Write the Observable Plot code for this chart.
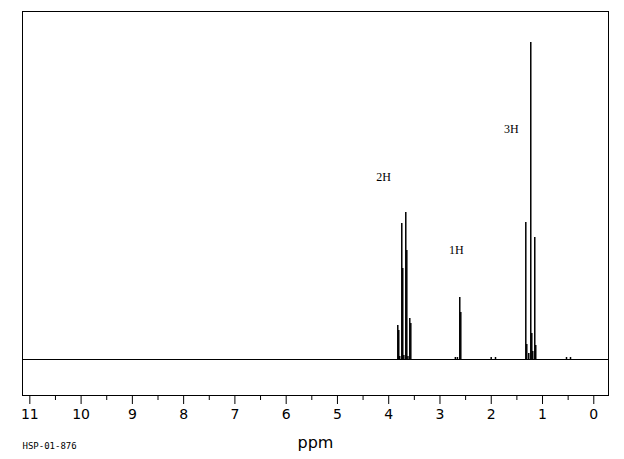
<!DOCTYPE html>
<html>
<head>
<meta charset="utf-8">
<script src="https://cdn.jsdelivr.net/npm/d3@7"></script>
<script src="https://cdn.jsdelivr.net/npm/@observablehq/plot@0.6"></script>
<style>
  html, body { margin: 0; padding: 0; background: #fff; }
</style>
</head>
<body>
<div id="chart"></div>
<script>
// Peak positions (ppm) and heights (arbitrary intensity units)
const peakPpm = [
  3.823, 3.804, 3.745, 3.726, 3.667, 3.647, 3.589, 3.569,
  3.785, 3.705, 3.625,
  2.614, 2.594, 2.70, 2.66,
  1.326, 1.307, 1.229, 1.209, 1.151, 1.132, 1.268, 1.190,
  2.001, 1.917, 0.532, 0.454
];
const peakHeight = [
  34, 29, 136, 91, 147, 109, 41, 36,
  3, 4, 3,
  62, 47, 2, 2,
  137, 15, 317, 26, 122, 14, 6, 8,
  2, 2, 2, 2
];
const majorTicks = [0, 1, 2, 3, 4, 5, 6, 7, 8, 9, 10, 11];
const minorTicks = [0.5, 1.5, 2.5, 3.5, 4.5, 5.5, 6.5, 7.5, 8.5, 9.5, 10.5];
const integralLabels = ["2H", "1H", "3H"];
const integralPpm = [4.10, 2.68, 1.61];
const integralY = [182, 109, 230];

const peaks = peakPpm.map((p, i) => ({ppm: p, h: peakHeight[i]}));
const labels = integralLabels.map((t, i) => ({t, ppm: integralPpm[i], y: integralY[i]}));

const chart = Plot.plot({
  width: 624,
  height: 459,
  marginLeft: 22,
  marginRight: 16,
  marginTop: 11,
  marginBottom: 64,
  style: {fontFamily: "DejaVu Sans", background: "#fff", color: "#000"},
  x: {domain: [11.143, -0.287], label: null},
  y: {domain: [-36, 348], axis: null},
  marks: [
    Plot.frame({stroke: "#000"}),
    Plot.ruleY([0], {stroke: "#000", strokeWidth: 1.2}),
    Plot.ruleX(peaks, {x: "ppm", y1: 0, y2: "h", stroke: "#000", strokeWidth: 1.5}),
    Plot.text(labels, {x: "ppm", y: "y", text: "t", fontFamily: "Liberation Serif", fontSize: 12, fill: "#000"}),
    Plot.axisX({ticks: majorTicks, tickSize: 9, tickPadding: 5, fontSize: 14, label: null, tickFormat: d => String(d)}),
    Plot.axisX({ticks: minorTicks, tickSize: 5, label: null, tickFormat: () => ""}),
    Plot.text(["ppm"], {frameAnchor: "bottom", dy: 52, fontSize: 16, fill: "#000"}),
    Plot.text(["HSP-01-876"], {frameAnchor: "bottom-left", dy: 53, textAnchor: "start", fontSize: 9, fontFamily: "DejaVu Sans Mono", fill: "#000"})
  ]
});
document.getElementById("chart").appendChild(chart);
</script>
</body>
</html>
